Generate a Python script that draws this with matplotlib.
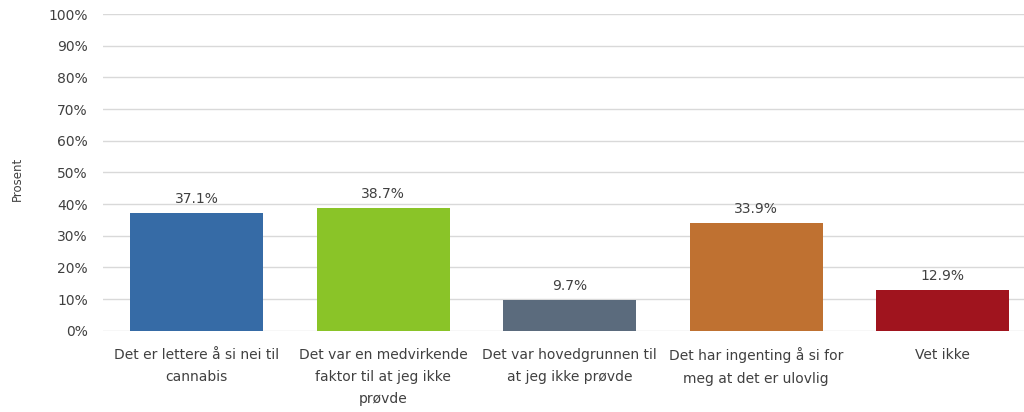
import numpy as np
import matplotlib.pyplot as plt
from matplotlib.ticker import PercentFormatter

# data
categories = [
    'Det er lettere å si nei til\ncannabis',
    'Det var en medvirkende\nfaktor til at jeg ikke\nprøvde',
    'Det var hovedgrunnen til\nat jeg ikke prøvde',
    'Det har ingenting å si for\nmeg at det er ulovlig',
    'Vet ikke',
]
values = [37.1, 38.7, 9.7, 33.9, 12.9]
colors = ['#366BA6', '#8AC428', '#5B6B7D', '#BF7131', '#A0141E']

plt.rcParams['font.family'] = ['DejaVu Sans']

fig = plt.figure(figsize=(10.24, 4.12), dpi=100)
# the plot area runs a bit past the right edge in the reference
ax = fig.add_axes([0.1008, 0.197, 0.911, 0.769])

x = np.arange(len(categories))
bars = ax.bar(x, values, width=0.713, color=colors, zorder=3)

for b, v in zip(bars, values):
    ax.text(b.get_x() + b.get_width() / 2, v + 2.3, f'{v:.1f}%',
            ha='center', va='bottom', fontsize=10, color='#404040')

ax.set_xlim(-0.5, len(categories) - 0.5)
ax.set_ylim(0, 100)
ax.set_yticks(np.arange(0, 101, 10))
ax.yaxis.set_major_formatter(PercentFormatter(decimals=0))
ax.set_xticks(x)
ax.set_xticklabels(categories, fontsize=10, color='#404040', linespacing=1.75)
ax.tick_params(axis='both', length=0, labelsize=10, colors='#404040')
ax.tick_params(axis='y', pad=11)
ax.tick_params(axis='x', pad=12)

ax.grid(axis='y', color='#D9D9D9', linewidth=1, zorder=0)
for s in ['top', 'right', 'left', 'bottom']:
    ax.spines[s].set_visible(False)

fig.text(0.017, 0.565, 'Prosent', rotation=90, ha='center', va='center',
         fontsize=8.5, color='#404040')

fig.savefig('out.png', dpi=100)
